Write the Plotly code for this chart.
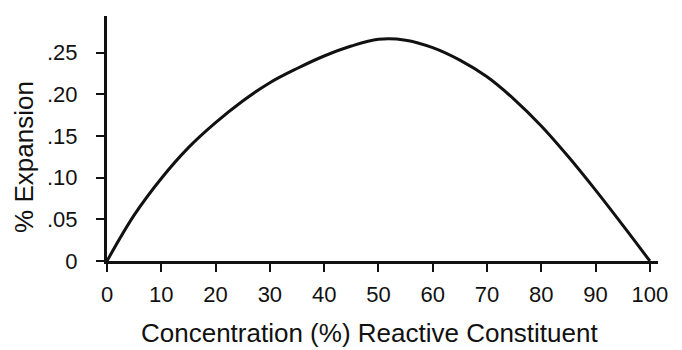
import plotly.graph_objects as go

# Data
concentration = [0, 5, 10, 15, 20, 25, 30, 35, 40, 45, 50, 55, 60, 65, 70, 75, 80, 85, 90, 95, 100]
expansion = [0, 0.055, 0.099, 0.136, 0.166, 0.192, 0.214, 0.231, 0.246, 0.258, 0.266,
             0.265, 0.256, 0.241, 0.221, 0.194, 0.162, 0.125, 0.085, 0.043, 0]

x_ticks = [0, 10, 20, 30, 40, 50, 60, 70, 80, 90, 100]
y_ticks = [0, 0.05, 0.10, 0.15, 0.20, 0.25]
y_ticktext = ["0", ".05", ".10", ".15", ".20", ".25"]
x_title = "Concentration (%) Reactive Constituent"
y_title = "% Expansion"

FONT = "Liberation Sans, Arial, sans-serif"
INK = "#111111"

fig = go.Figure()
fig.add_trace(go.Scatter(
    x=concentration, y=expansion, mode="lines",
    line=dict(color=INK, width=3, shape="spline", smoothing=1.0),
    showlegend=False, hoverinfo="skip",
))

fig.update_layout(
    width=682, height=350,
    margin=dict(l=107, r=24, t=16, b=89),
    paper_bgcolor="white", plot_bgcolor="white",
    font=dict(family=FONT, color=INK),
)
fig.update_xaxes(
    range=[0, 101.5], tickvals=x_ticks, ticktext=[str(v) for v in x_ticks],
    showline=True, linecolor=INK, linewidth=3, showgrid=False, zeroline=False,
    ticks="outside", ticklen=8, tickwidth=2, tickcolor=INK,
    tickfont=dict(size=22, family=FONT, color=INK), ticklabelstandoff=4,
)
fig.update_yaxes(
    range=[0, 0.294], tickvals=y_ticks, ticktext=y_ticktext,
    showline=True, linecolor=INK, linewidth=3, showgrid=False, zeroline=False,
    ticks="outside", ticklen=8, tickwidth=2, tickcolor=INK,
    tickfont=dict(size=22, family=FONT, color=INK), ticklabelstandoff=14,
)
fig.add_annotation(
    text=x_title, xref="paper", yref="paper", x=0.477, y=-0.295,
    xanchor="center", yanchor="middle", showarrow=False,
    font=dict(size=26, family=FONT, color=INK),
)
fig.add_annotation(
    text=y_title, xref="paper", yref="paper", x=-0.151, y=0.424,
    xanchor="center", yanchor="middle", showarrow=False, textangle=-90,
    font=dict(size=26, family=FONT, color=INK),
)

fig.write_html("out.html")
